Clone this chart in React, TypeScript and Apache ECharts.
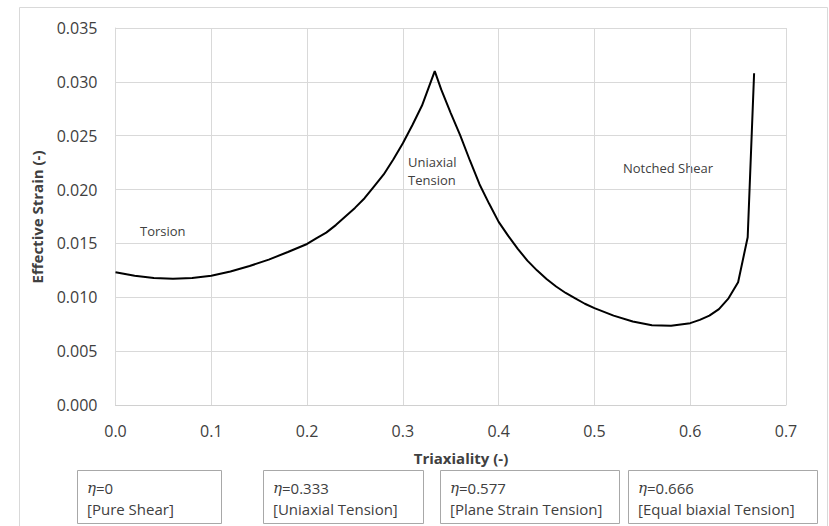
import React, { useEffect, useRef } from "react";
import * as echarts from "echarts";

const triaxiality = [0, 0.02, 0.04, 0.06, 0.08, 0.1, 0.12, 0.14, 0.16, 0.18, 0.2, 0.21, 0.22, 0.23, 0.24, 0.25, 0.26, 0.27, 0.28, 0.29, 0.3, 0.31, 0.32, 0.3333, 0.34, 0.35, 0.36, 0.37, 0.38, 0.39, 0.4, 0.41, 0.42, 0.43, 0.44, 0.45, 0.46, 0.47, 0.48, 0.49, 0.5, 0.52, 0.54, 0.56, 0.58, 0.6, 0.61, 0.62, 0.63, 0.64, 0.65, 0.66, 0.6667];
const strain = [0.01232, 0.0120, 0.01178, 0.01173, 0.01178, 0.0120, 0.0124, 0.0129, 0.0135, 0.0142, 0.01495, 0.0155, 0.0160, 0.0167, 0.0175, 0.0183, 0.0192, 0.0203, 0.0214, 0.0228, 0.0243, 0.0260, 0.0278, 0.0310, 0.0293, 0.0271, 0.0250, 0.0227, 0.0205, 0.0187, 0.0170, 0.0157, 0.0145, 0.0134, 0.0125, 0.0117, 0.0110, 0.0104, 0.0099, 0.0094, 0.0090, 0.0083, 0.00775, 0.0074, 0.00735, 0.0076, 0.0079, 0.0083, 0.0089, 0.0099, 0.0114, 0.01557, 0.0308];

const xTitle = "Triaxiality (-)";
const yTitle = "Effective Strain (-)";
const regionLabels = ["Torsion", "Uniaxial\nTension", "Notched Shear"];
const etaValues = ["0", "0.333", "0.577", "0.666"];
const stateNames = ["[Pure Shear]", "[Uniaxial Tension]", "[Plane Strain Tension]", "[Equal biaxial Tension]"];

const FONT = "'Open Sans', sans-serif";
const TXT = "#404040";

export default function App() {
  const ref = useRef<HTMLDivElement>(null);
  useEffect(() => {
    if (!ref.current) return;
    const chart = echarts.init(ref.current, null, { renderer: "svg" });
    const data = triaxiality.map((x, i) => [x, strain[i]]);

    const boxes = [
      { x: 77, w: 144 },
      { x: 263, w: 160 },
      { x: 440, w: 179 },
      { x: 628, w: 189 },
    ];
    const boxGraphics: any[] = [];
    boxes.forEach((b, i) => {
      boxGraphics.push({
        type: "rect",
        shape: { x: b.x + 0.5, y: 470.5, width: b.w, height: 53 },
        style: { fill: "#fff", stroke: "#a8a8a8", lineWidth: 1 },
        silent: true,
      });
      boxGraphics.push({
        type: "text",
        x: b.x + 10,
        y: 488,
        style: {
          text: "{i|η}=" + etaValues[i],
          font: `15px ${FONT}`,
          fill: TXT,
          verticalAlign: "middle",
          rich: { i: { fontFamily: "'DejaVu Serif', serif", fontStyle: "italic", fontSize: 15, fill: TXT } },
        },
      });
      boxGraphics.push({
        type: "text",
        x: b.x + 10,
        y: 509,
        style: { text: stateNames[i], font: `15px ${FONT}`, fill: TXT, verticalAlign: "middle" },
      });
    });

    chart.setOption({
      animation: false,
      backgroundColor: "#fff",
      grid: { left: 115.5, right: 43, top: 28, bottom: 121, containLabel: false },
      xAxis: {
        type: "value",
        min: 0,
        max: 0.7,
        interval: 0.1,
        axisLine: { show: true, lineStyle: { color: "#d0d0d0", width: 1 } },
        axisTick: { show: false },
        splitLine: { show: true, lineStyle: { color: "#d9d9d9", width: 1 } },
        axisLabel: { formatter: (v: number) => v.toFixed(1), fontSize: 16, fontFamily: FONT, color: TXT, margin: 18 },
      },
      yAxis: {
        type: "value",
        min: 0,
        max: 0.035,
        interval: 0.005,
        axisLine: { show: true, lineStyle: { color: "#d9d9d9", width: 1 } },
        axisTick: { show: false },
        splitLine: { show: true, lineStyle: { color: "#d9d9d9", width: 1 } },
        axisLabel: { formatter: (v: number) => v.toFixed(3), fontSize: 16, fontFamily: FONT, color: TXT, margin: 18 },
      },
      series: [
        {
          type: "line",
          data,
          showSymbol: false,
          symbol: "none",
          smooth: false,
          lineStyle: { color: "#000", width: 2 },
          z: 5,
        },
      ],
      graphic: [
        {
          type: "rect",
          shape: { x: 19.5, y: 7.5, width: 808, height: 530 },
          style: { fill: "none", stroke: "#d9d9d9", lineWidth: 1 },
          silent: true,
          z: -10,
        },
        {
          type: "text",
          x: 461,
          y: 458,
          style: { text: xTitle, font: `bold 15px ${FONT}`, fill: TXT, align: "center", verticalAlign: "middle" },
        },
        {
          type: "text",
          x: 37,
          y: 217,
          rotation: Math.PI / 2,
          style: { text: yTitle, font: `bold 15px ${FONT}`, fill: TXT, align: "center", verticalAlign: "middle" },
        },
        {
          type: "text",
          x: 140,
          y: 231,
          style: { text: regionLabels[0], font: `13px ${FONT}`, fill: TXT, verticalAlign: "middle" },
        },
        {
          type: "text",
          x: 408,
          y: 171,
          style: { text: regionLabels[1], font: `13px ${FONT}`, fill: TXT, verticalAlign: "middle", lineHeight: 18 },
        },
        {
          type: "text",
          x: 623,
          y: 168,
          style: { text: regionLabels[2], font: `13px ${FONT}`, fill: TXT, verticalAlign: "middle" },
        },
        ...boxGraphics,
      ],
    });
    return () => chart.dispose();
  }, []);
  return <div ref={ref} style={{ position: "fixed", left: 0, top: 0, width: 829, height: 526 }} />;
}
